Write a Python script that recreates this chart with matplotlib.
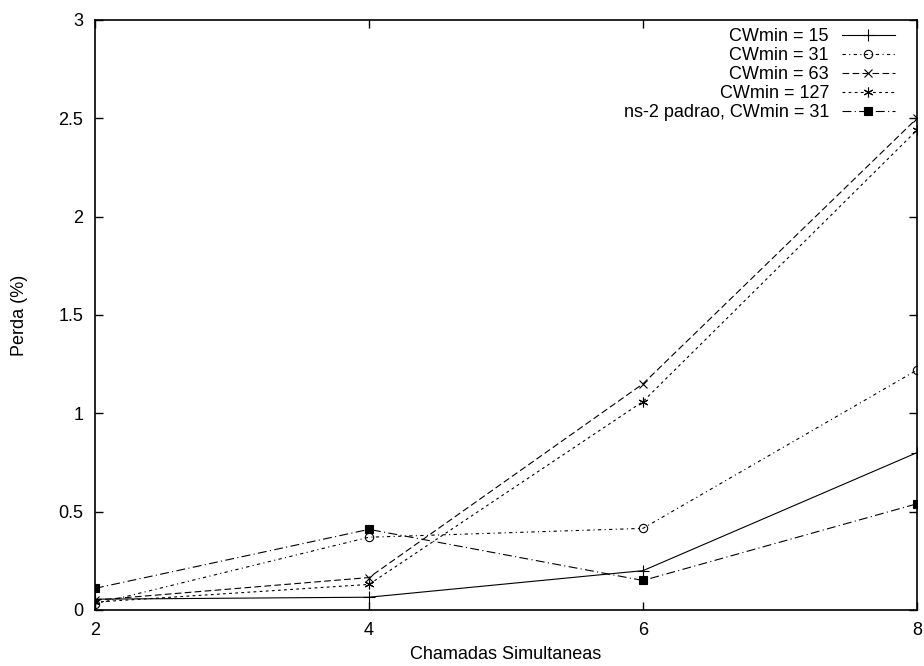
import matplotlib
matplotlib.use("Agg")
from matplotlib import pyplot as plt

plt.rcParams['font.family'] = ['Liberation Sans', 'DejaVu Sans']

# dados
chamadas = [2, 4, 6, 8]
perda_15 = [0.055, 0.065, 0.20, 0.80]
perda_31 = [0.03, 0.37, 0.415, 1.22]
perda_63 = [0.05, 0.165, 1.15, 2.50]
perda_127 = [0.04, 0.13, 1.06, 2.44]
perda_ns2 = [0.11, 0.41, 0.15, 0.54]

rotulos = ["CWmin = 15", "CWmin = 31", "CWmin = 63", "CWmin = 127",
           "ns-2 padrao, CWmin = 31"]
xticks = [2, 4, 6, 8]
yticks = [0, 0.5, 1, 1.5, 2, 2.5, 3]

fs = 13

fig = plt.figure(figsize=(9.24, 6.66), dpi=100)
ax = fig.add_axes([0.1028, 0.0841, 0.8896, 0.8859])

lw = 0.8
ax.plot(chamadas, perda_15, color='black', lw=lw, ls='-', marker='+',
        ms=8, mew=0.8, label=rotulos[0])
ax.plot(chamadas, perda_31, color='black', lw=lw, ls=(0, (3, 3, 1, 3)), marker='o',
        ms=6, mfc='none', mew=0.8, label=rotulos[1])
ax.plot(chamadas, perda_63, color='black', lw=lw, ls=(0, (6, 3)), marker='x',
        ms=6, mew=0.8, label=rotulos[2])
ax.plot(chamadas, perda_127, color='black', lw=lw, ls=(0, (2.5, 3)), marker=(6, 2, 0),
        ms=7, mew=0.8, label=rotulos[3])
ax.plot(chamadas, perda_ns2, color='black', lw=lw, ls=(0, (8, 3, 1, 3)), marker='s',
        ms=6, mew=0.8, label=rotulos[4])

ax.set_xlim(2, 8)
ax.set_ylim(0, 3)
ax.set_xticks(xticks)
ax.set_xticklabels([str(v) for v in xticks])
ax.set_yticks(yticks)
ax.set_yticklabels([f"{v:g}" for v in yticks])
ax.tick_params(direction='in', length=6, width=1, top=True, right=True,
               labelsize=fs)
ax.tick_params(axis='x', pad=8.5)
ax.tick_params(axis='y', pad=8.5)
for s in ax.spines.values():
    s.set_linewidth(1.2)

ax.set_xlabel("Chamadas Simultaneas", fontsize=fs, labelpad=5)
ax.set_ylabel("Perda (%)", fontsize=fs, labelpad=22)

leg = ax.legend(loc='upper right', bbox_to_anchor=(0.973, 0.986),
                markerfirst=False, frameon=False, fontsize=fs,
                handlelength=2.93, handletextpad=0.72, labelspacing=0.11,
                borderpad=0, borderaxespad=0)

fig.savefig("out.png", dpi=100)
